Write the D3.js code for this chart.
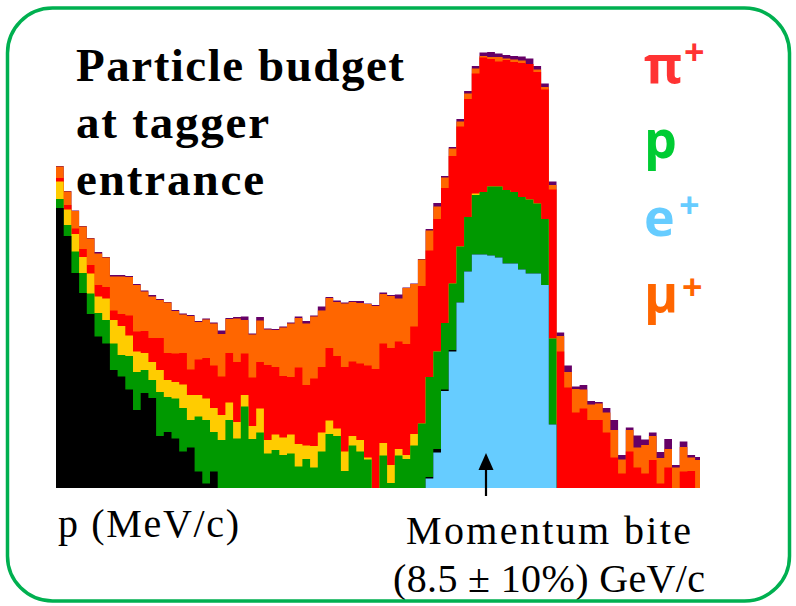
<!DOCTYPE html>
<html>
<head>
<meta charset="utf-8">
<script src="https://cdn.jsdelivr.net/npm/d3@7"></script>
<style>
  body { margin: 0; background: #ffffff; }
  svg { display: block; }
</style>
</head>
<body>
<svg id="chart" width="796" height="606"></svg>
<script>
// Stacked momentum histogram: entries per bin for each particle species,
// listed from the bottom of the stack to the top.
const binCount = 84;

const eplus = [
  0,0,0,0,0,0,0,0,0,0, 0,0,0,0,0,0,0,0,0,0,
  0,0,0,0,0,0,0,0,0,0, 0,0,0,0,0,0,0,0,0,0,
  0,0,0,0,0,0,0,0,9.5,35.5, 97,136.5,185.5,216.5,233.5,233.5,232.5,230.5,224.5,224.5,
  218.5,214.5,214.5,203,63.5,0,0,0,0,0, 0,0,0,0,0,0,0,0,0,0,
  0,0,0,0
];
const heavy = [
  280,252,215,195,174,151.5,144.5,118,111.5,98.5, 78,95,90,52,56,49.5,36.5,40.5,16.5,4.5,
  16.5,0,0,0,0,0,0,0,0,0, 0,0,0,0,0,0,0,0,0,0,
  0,0,0,0,0,0,0,0,1.5,3.5, 1.5,1.5,0,0,0,0,0,0,0,0,
  0,0,0,0,0,0,0,0,0,0, 0,0,0,0,0,0,0,0,0,0,
  0,0,0,0
];
const proton = [
  9,11,21.5,20,20.5,23.5,23.5,26.5,21.5,33.5, 38,23,18,44,35,40,43.5,27.5,55,63.5,
  39.5,48,68,49.5,81.5,49,55.5,34.5,38,33, 34.5,21.5,29,20.5,36.5,54,52,17,42.5,36.5,
  28.5,0,32.5,5,32.5,29,42.5,64.5,100,97.5, 66.5,66.5,56,54.5,59.5,62.5,69,71,73.5,71.5,
  72.5,74,70,66,86,0,0,0,0,0, 0,0,0,0,0,0,0,0,0,0,
  0,0,0,0
];
const kaon = [
  17.5,15.5,17.5,16,20,16.5,21.5,23.5,29,20.5, 20.5,17,18,22,17,16.5,23.5,25,21.5,21.5,
  24,25,17.5,16.5,11.5,13,24,13.5,15.5,17.5, 19,22.5,13.5,21.5,19,13.5,7.5,19.5,9.5,11.5,
  2,0,12.5,18,6.5,4,11.5,0,0,0, 0,0,0,0,1.5,0,0,0,0,0,
  0,0,0,0,0,0,0,0,0,0, 0,0,0,0,0,0,0,0,0,0,
  0,0,0,0
];
const piplus = [
  3.5,4.5,5.5,8,8.5,11.5,11.5,9.5,12,20, 20,22,24,32,27,28.5,31.5,25.5,35.5,40.5,
  42.5,38.5,49.5,60,41.5,48.5,46.5,75,67.5,61.5, 57.5,76.5,60.5,67.5,65.5,72.5,72.5,84.5,74.5,76.5,
  92,119,99.5,117,107.5,111,107.5,137.5,126.5,132.5, 135,127.5,120,118,120,134.5,127.5,125,130,130,
  134,135.5,131.5,129.5,149,136.5,100.5,75.5,79.5,68, 68,55.5,30.5,14.5,36.5,20.5,14.5,28,4.5,20.5,
  0,16.5,17,0
];
const muplus = [
  11.5,13.5,17.5,22.5,26.5,31.5,29.5,34,37.5,38.5, 46.5,39.5,41.5,38,50.5,42.5,38.5,53.5,37.5,38.5,
  42,42.5,34,43.5,33.5,43,41.5,35.5,37,48.5, 53.5,49.5,61.5,62,56.5,50,54,63.5,59.5,60.5,
  61.5,63,49.5,52,43,56,42.5,26.5,20,12.5, 10.5,7.5,5,5.5,5,1.5,2,4.5,1.5,2.5,
  2.5,0,2.5,2.5,4.5,15.5,15.5,23.5,19,15.5, 16.5,20,27.5,14,21.5,20,28.5,24,25.5,18.5,
  20.5,24.5,13.5,28
];
const other = [
  0.5,0.5,0.5,0.5,0.5,1.5,0.5,1.5,1.5,1, 1,1,1.5,1,0.5,1,1,1,1,1,
  1,3.5,1,1.5,3.5,1,3.5,1,1,1, 1,1.5,2.5,1,4,1,1.5,1,1,2,
  0.5,1,1.5,1,4,0.5,0.5,0.5,1.5,3.5, 1.5,1.5,2.5,2.5,2.5,3.5,5,3.5,3.5,3.5,
  4,5.5,3.5,3.5,3.5,3.5,6.5,2.5,4.5,3.5, 1.5,4.5,10,4.5,2.5,12,5.5,3.5,6,10,
  2.5,5.5,2.5,3
];

const seriesKeys = ["eplus", "heavy", "proton", "kaon", "piplus", "muplus", "other"];
const seriesValues = { eplus, heavy, proton, kaon, piplus, muplus, other };
const seriesColors = {
  eplus: "#66ccff", heavy: "#000000", proton: "#009900", kaon: "#ffcc00",
  piplus: "#ff0000", muplus: "#ff6600", other: "#660066"
};

// Text content
const titleLines = ["Particle budget", "at tagger", "entrance"];
const legendItems = [
  { base: "\u03c0", sup: "+", color: "#ff3333" },
  { base: "p",      sup: "",  color: "#00cc33" },
  { base: "e",      sup: "+", color: "#66ccff" },
  { base: "\u03bc", sup: "+", color: "#ff6600" }
];
const axisLabel = "p (MeV/c)";
const biteLines = ["Momentum bite", "(8.5 \u00b1 10%) GeV/c"];

// ---- layout ----
const svg = d3.select("#chart");
svg.append("rect").attr("width", 796).attr("height", 606).attr("fill", "#ffffff");

const plot = { left: 56, right: 700, bottom: 488, top: 48, binW: 7.7 };
const x = d3.scaleLinear().domain([0, binCount]).range([plot.left, plot.left + plot.binW * binCount]);
const y = d3.scaleLinear().domain([0, 440]).range([plot.bottom, plot.top]);

const rows = d3.range(binCount).map(i => {
  const r = { bin: i };
  seriesKeys.forEach(k => { r[k] = seriesValues[k][i]; });
  return r;
});
const stacked = d3.stack().keys(seriesKeys)(rows);

svg.append("clipPath").attr("id", "plotClip")
  .append("rect")
  .attr("x", plot.left).attr("y", 0)
  .attr("width", plot.right - plot.left).attr("height", plot.bottom + 1);

// Each layer is painted from zero up to its cumulative top, topmost first,
// so that neighbouring layers meet without seams.
const area = d3.area()
  .x(p => x(p.x))
  .y0(() => y(0))
  .y1(p => y(p.top));

const g = svg.append("g").attr("clip-path", "url(#plotClip)");
stacked.slice().reverse().forEach(layer => {
  const pts = [];
  layer.forEach((d, i) => {
    pts.push({ x: i, top: d[1] });
    pts.push({ x: i + 1, top: d[1] });
  });
  g.append("path")
    .attr("d", area(pts))
    .attr("fill", seriesColors[layer.key]);
});

// Title
const title = svg.append("g")
  .attr("font-family", "'Liberation Serif', 'Times New Roman', serif")
  .attr("font-weight", "bold")
  .attr("font-size", 47)
  .attr("fill", "#000000");
const titleWidths = [328, 193, 188];
titleLines.forEach((t, i) => {
  title.append("text")
    .attr("x", 76).attr("y", 81 + i * 57)
    .attr("textLength", titleWidths[i])
    .attr("lengthAdjust", "spacing")
    .text(t);
});

// Legend
const legend = svg.append("g")
  .attr("font-family", "'Open Sans', 'DejaVu Sans', sans-serif")
  .attr("font-weight", "bold");
const legendBase = [83, 158, 236, 312];
const supBase = [65, 0, 218, 300];
const supX = [684, 0, 679, 682];
legendItems.forEach((it, i) => {
  legend.append("text")
    .attr("x", 644).attr("y", legendBase[i])
    .attr("font-size", 52)
    .attr("fill", it.color)
    .text(it.base);
  if (it.sup) {
    legend.append("text")
      .attr("x", supX[i]).attr("y", supBase[i])
      .attr("font-size", 36)
      .attr("fill", it.color)
      .text(it.sup);
  }
});

// Lower labels
const lower = svg.append("g")
  .attr("font-family", "'Liberation Serif', 'Times New Roman', serif")
  .attr("font-size", 40)
  .attr("fill", "#000000");
lower.append("text")
  .attr("x", 58).attr("y", 537)
  .attr("textLength", 181).attr("lengthAdjust", "spacing")
  .text(axisLabel);
lower.append("text")
  .attr("x", 406).attr("y", 544)
  .attr("textLength", 285).attr("lengthAdjust", "spacing")
  .text(biteLines[0]);
lower.append("text")
  .attr("x", 393).attr("y", 592)
  .attr("textLength", 312).attr("lengthAdjust", "spacing")
  .text(biteLines[1]);

// Arrow marking the momentum bite
const arrowX = 486;
svg.append("line")
  .attr("x1", arrowX).attr("x2", arrowX)
  .attr("y1", 496).attr("y2", 466)
  .attr("stroke", "#000000").attr("stroke-width", 2.2);
svg.append("path")
  .attr("d", `M${arrowX - 7.5},470 L${arrowX + 7.5},470 L${arrowX},453 Z`)
  .attr("fill", "#000000");

// Rounded frame
svg.append("rect")
  .attr("x", 7.5).attr("y", 8)
  .attr("width", 782).attr("height", 593)
  .attr("rx", 45).attr("ry", 45)
  .attr("fill", "none")
  .attr("stroke", "#00b050")
  .attr("stroke-width", 3.5);
</script>
</body>
</html>
